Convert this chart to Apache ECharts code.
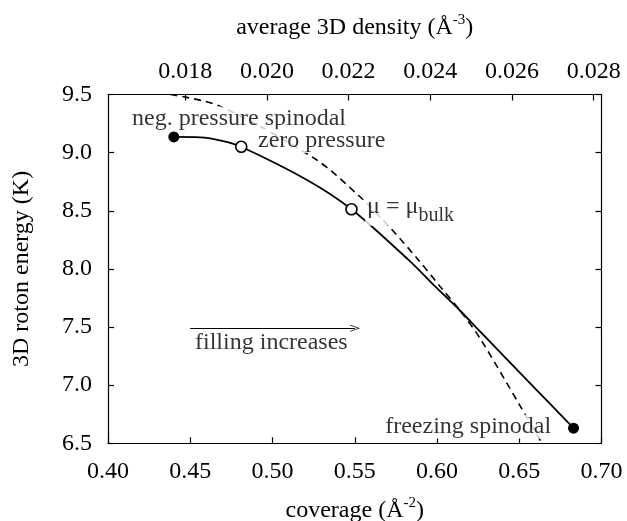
<!DOCTYPE html>
<html>
<head>
<meta charset="utf-8">
<script src="https://cdn.jsdelivr.net/npm/echarts@6/dist/echarts.min.js"></script>
<style>
html,body{margin:0;padding:0;background:#fff}
#chart{width:627px;height:521px}
</style>
</head>
<body>
<div id="chart"></div>
<script>
// roton energy vs coverage
var solidCov = [0.440, 0.456, 0.470, 0.481, 0.521, 0.548, 0.5827, 0.600, 0.6141, 0.6263, 0.655, 0.683];
var solidE   = [9.135, 9.132, 9.100, 9.051, 8.765, 8.513, 8.077, 7.834, 7.640, 7.460, 7.040, 6.630];
var dashCov  = [0.438, 0.468, 0.526, 0.552, 0.5705, 0.5887, 0.602, 0.6141, 0.6263, 0.6506, 0.6638];
var dashE    = [9.500, 9.400, 8.945, 8.636, 8.370, 8.077, 7.847, 7.640, 7.400, 6.820, 6.500];

// marked states on the solid curve
var stateCov    = [0.440, 0.481, 0.548, 0.683];
var stateE      = [9.135, 9.051, 8.513, 6.630];
var stateFilled = [true, false, false, true];

// top axis: average 3D density, proportional to coverage
var densityTicks = [0.018, 0.020, 0.022, 0.024, 0.026, 0.028];
var coveragePerDensity = 24.83;

// annotations (left end of text, vertical middle)
var notes   = ['neg. pressure spinodal', 'zero pressure', '{m|μ = μ}{sub|bulk}', 'freezing spinodal', 'filling increases'];
var noteCov = [0.4134, 0.490, 0.5563, 0.5673, 0.4517];
var noteE   = [9.294, 9.100, 8.535, 6.643, 7.363];
var arrowCov = [0.4499, 0.5502];
var arrowE   = 7.49;

var FONT = '"Liberation Serif", "Times New Roman", Times, serif';
var chevron = 'path://M0,10 L5,0 L10,10 L9,10 L5,2 L1,10 Z';

function zip(a, b) {
    return a.map(function (v, i) { return [v, b[i]]; });
}

var chart = echarts.init(document.getElementById('chart'));

var axisLine = {show: true, onZero: false, lineStyle: {color: '#000', width: 1.2}};
var tickStyle = {color: '#000', width: 1.2};
var labelStyle = {fontFamily: FONT, fontSize: 24, color: '#000'};
var nameStyle = {
    fontFamily: FONT, fontSize: 24, color: '#000', lineHeight: 30,
    rich: {sup: {fontFamily: FONT, fontSize: 15, color: '#000', verticalAlign: 'top'}}
};

var option = {
    animation: false,
    backgroundColor: '#fff',
    grid: {left: 108, right: 25.5, top: 94.5, bottom: 77.7, containLabel: false, outerBoundsMode: 'none'},
    xAxis: [
        {
            type: 'value', position: 'bottom',
            min: 0.40, max: 0.70, interval: 0.05,
            axisLine: axisLine,
            axisTick: {inside: true, length: 6, lineStyle: tickStyle},
            axisLabel: Object.assign({margin: 16, showMinLabel: true, showMaxLabel: true,
                formatter: function (v) { return v.toFixed(2); }}, labelStyle),
            splitLine: {show: false},
            name: 'coverage (Å{sup|-2})', nameLocation: 'middle', nameGap: 52,
            nameTextStyle: nameStyle
        },
        {
            type: 'value', position: 'top',
            min: 0.40 / coveragePerDensity, max: 0.70 / coveragePerDensity,
            axisLine: axisLine,
            axisTick: {inside: true, length: 6, lineStyle: tickStyle, customValues: densityTicks},
            axisLabel: Object.assign({margin: 11, customValues: densityTicks,
                formatter: function (v) { return v.toFixed(3); }}, labelStyle),
            splitLine: {show: false},
            name: 'average 3D density (Å{sup|-3})', nameLocation: 'middle', nameGap: 52,
            nameTextStyle: nameStyle
        }
    ],
    yAxis: [
        {
            type: 'value', position: 'left',
            min: 6.5, max: 9.5, interval: 0.5,
            axisLine: axisLine,
            axisTick: {inside: true, length: 6, lineStyle: tickStyle},
            axisLabel: Object.assign({margin: 16, showMinLabel: true, showMaxLabel: true,
                formatter: function (v) { return v.toFixed(1); }}, labelStyle),
            splitLine: {show: false},
            name: '3D roton energy (K)', nameLocation: 'middle', nameGap: 74,
            nameTextStyle: {fontFamily: FONT, fontSize: 24, color: '#000'}
        },
        {
            type: 'value', position: 'right',
            min: 6.5, max: 9.5, interval: 0.5,
            axisLine: axisLine,
            axisTick: {inside: true, length: 6, lineStyle: tickStyle},
            axisLabel: {show: false},
            splitLine: {show: false}
        }
    ],
    series: [
        {
            name: 'dashed', type: 'line', xAxisIndex: 0, yAxisIndex: 0,
            data: zip(dashCov, dashE), smooth: 0.3, showSymbol: false, z: 2,
            lineStyle: {color: '#000', width: 1.6, type: [7, 5]}
        },
        {
            name: 'solid', type: 'line', xAxisIndex: 0, yAxisIndex: 0,
            data: zip(solidCov, solidE), smooth: 0.3, showSymbol: false, z: 3,
            lineStyle: {color: '#000', width: 1.8}
        },
        {
            name: 'states', type: 'scatter', xAxisIndex: 0, yAxisIndex: 0, z: 4,
            symbol: 'circle', symbolSize: 11,
            data: stateCov.map(function (c, i) {
                return {
                    value: [c, stateE[i]],
                    itemStyle: stateFilled[i]
                        ? {color: '#000', opacity: 1}
                        : {color: '#fff', borderColor: '#000', borderWidth: 1.6, opacity: 1}
                };
            })
        },
        {
            name: 'notes', type: 'scatter', xAxisIndex: 0, yAxisIndex: 0, z: 5,
            symbolSize: 0,
            data: noteCov.map(function (c, i) {
                return {value: [c, noteE[i]], text: notes[i]};
            }),
            label: {
                show: true, position: 'right', distance: 0,
                formatter: function (p) { return p.data.text; },
                fontFamily: FONT, fontSize: 24, color: '#000',
                backgroundColor: '#fff', padding: [0, 2],
                rich: {
                    m: {fontFamily: FONT, fontSize: 24, color: '#000', lineHeight: 38},
                    sub: {fontFamily: FONT, fontSize: 20, color: '#000', verticalAlign: 'bottom'}
                }
            },
            markLine: {
                silent: true, animation: false,
                symbol: ['none', chevron], symbolSize: [7, 10],
                label: {show: false},
                lineStyle: {color: '#000', width: 1.2, type: 'solid'},
                data: [[{coord: [arrowCov[0], arrowE]}, {coord: [arrowCov[1], arrowE]}]]
            }
        }
    ]
};

chart.setOption(option);
</script>
</body>
</html>
